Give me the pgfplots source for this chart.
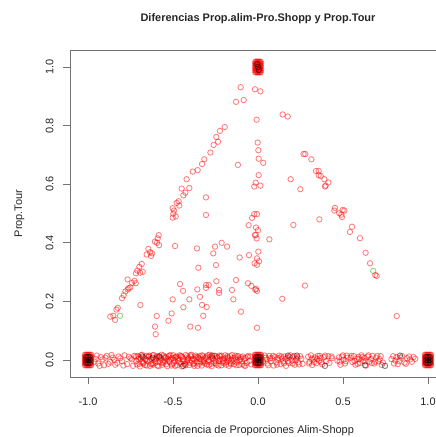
\documentclass[border=0pt]{standalone}
\usepackage{fontspec}
\setmainfont{Liberation Sans}
\usepackage{pgfplots}
\pgfplotsset{compat=1.18}

\definecolor{boxgray}{gray}{0.45}
\definecolor{txt}{gray}{0.15}

\begin{document}
\begin{tikzpicture}
\begin{axis}[
    at={(0,0)}, anchor=south west,
    scale only axis,
    width=375bp, height=327bp,
    xmin=-1.103, xmax=1.103,
    ymin=-0.058, ymax=1.058,
    xtick={-1,-0.5,0,0.5,1},
    ytick={0,0.2,0.4,0.6,0.8,1},
    xtick pos=left, ytick pos=left,
    tick align=outside,
    major tick length=7bp,
    axis line style={boxgray, line width=0.8bp},
    every tick/.style={boxgray, line width=0.8bp},
    font=\fontsize{11}{13}\selectfont,
    /pgf/number format/.cd, fixed, fixed zerofill, precision=1, assume math mode=true,
    /pgfplots/.cd,
    xticklabel style={anchor=base, yshift=-21bp, text=txt},
    yticklabel style={xshift=-10bp, rotate=90, anchor=base, text=txt},
    title={\bfseries Diferencias Prop.alim-Pro.Shopp y Prop.Tour},
    title style={at={(axis description cs:0.5,1.0703)}, anchor=base, text=txt},
    xlabel={Diferencia de Proporciones Alim-Shopp},
    xlabel style={at={(axis description cs:0.5,-0.174)}, anchor=base, text=txt},
    ylabel={Prop.Tour},
    ylabel style={at={(axis description cs:-0.129,0.5)}, anchor=base, text=txt},
    every axis plot/.append style={only marks, mark=o, mark size=2.7bp,
        mark options={line width=0.85bp}},
]
% dense groups at (-1,0), (0,0), (1,0), (0,1)
\addplot[draw=red, draw opacity=0.5] coordinates {
(-1.018,-0.018)(-1.012,-0.018)(-1.006,-0.018)(-1.0,-0.018)(-0.994,-0.018)(-0.988,-0.018)(-0.982,-0.018)
(-1.018,-0.012)(-1.012,-0.012)(-1.006,-0.012)(-1.0,-0.012)(-0.994,-0.012)(-0.988,-0.012)(-0.982,-0.012)
(-1.018,-0.006)(-1.012,-0.006)(-1.006,-0.006)(-1.0,-0.006)(-0.994,-0.006)(-0.988,-0.006)(-0.982,-0.006)
(-1.018,0.0)(-1.012,0.0)(-1.006,0.0)(-1.0,0.0)(-0.994,0.0)(-0.988,0.0)(-0.982,0.0)
(-1.018,0.006)(-1.012,0.006)(-1.006,0.006)(-1.0,0.006)(-0.994,0.006)(-0.988,0.006)(-0.982,0.006)
(-1.018,0.012)(-1.012,0.012)(-1.006,0.012)(-1.0,0.012)(-0.994,0.012)(-0.988,0.012)(-0.982,0.012)
(-1.018,0.018)(-1.012,0.018)(-1.006,0.018)(-1.0,0.018)(-0.994,0.018)(-0.988,0.018)(-0.982,0.018)
(-0.018,-0.018)(-0.012,-0.018)(-0.006,-0.018)(0.0,-0.018)(0.006,-0.018)(0.012,-0.018)(0.018,-0.018)
(-0.018,-0.012)(-0.012,-0.012)(-0.006,-0.012)(0.0,-0.012)(0.006,-0.012)(0.012,-0.012)(0.018,-0.012)
(-0.018,-0.006)(-0.012,-0.006)(-0.006,-0.006)(0.0,-0.006)(0.006,-0.006)(0.012,-0.006)(0.018,-0.006)
(-0.018,0.0)(-0.012,0.0)(-0.006,0.0)(0.0,0.0)(0.006,0.0)(0.012,0.0)(0.018,0.0)
(-0.018,0.006)(-0.012,0.006)(-0.006,0.006)(0.0,0.006)(0.006,0.006)(0.012,0.006)(0.018,0.006)
(-0.018,0.012)(-0.012,0.012)(-0.006,0.012)(0.0,0.012)(0.006,0.012)(0.012,0.012)(0.018,0.012)
(-0.018,0.018)(-0.012,0.018)(-0.006,0.018)(0.0,0.018)(0.006,0.018)(0.012,0.018)(0.018,0.018)
(0.982,-0.018)(0.988,-0.018)(0.994,-0.018)(1.0,-0.018)(1.006,-0.018)(1.012,-0.018)(1.018,-0.018)
(0.982,-0.012)(0.988,-0.012)(0.994,-0.012)(1.0,-0.012)(1.006,-0.012)(1.012,-0.012)(1.018,-0.012)
(0.982,-0.006)(0.988,-0.006)(0.994,-0.006)(1.0,-0.006)(1.006,-0.006)(1.012,-0.006)(1.018,-0.006)
(0.982,0.0)(0.988,0.0)(0.994,0.0)(1.0,0.0)(1.006,0.0)(1.012,0.0)(1.018,0.0)
(0.982,0.006)(0.988,0.006)(0.994,0.006)(1.0,0.006)(1.006,0.006)(1.012,0.006)(1.018,0.006)
(0.982,0.012)(0.988,0.012)(0.994,0.012)(1.0,0.012)(1.006,0.012)(1.012,0.012)(1.018,0.012)
(0.982,0.018)(0.988,0.018)(0.994,0.018)(1.0,0.018)(1.006,0.018)(1.012,0.018)(1.018,0.018)
(-0.016,0.982)(-0.011,0.982)(-0.005,0.982)(0.0,0.982)(0.005,0.982)(0.011,0.982)(0.016,0.982)
(-0.016,0.988)(-0.011,0.988)(-0.005,0.988)(0.0,0.988)(0.005,0.988)(0.011,0.988)(0.016,0.988)
(-0.016,0.994)(-0.011,0.994)(-0.005,0.994)(0.0,0.994)(0.005,0.994)(0.011,0.994)(0.016,0.994)
(-0.016,1.0)(-0.011,1.0)(-0.005,1.0)(0.0,1.0)(0.005,1.0)(0.011,1.0)(0.016,1.0)
(-0.016,1.006)(-0.011,1.006)(-0.005,1.006)(0.0,1.006)(0.005,1.006)(0.011,1.006)(0.016,1.006)
(-0.016,1.012)(-0.011,1.012)(-0.005,1.012)(0.0,1.012)(0.005,1.012)(0.011,1.012)(0.016,1.012)
(-0.016,1.018)(-0.011,1.018)(-0.005,1.018)(0.0,1.018)(0.005,1.018)(0.011,1.018)(0.016,1.018)
};
% bottom row, Prop.Tour = 0
\addplot[draw=red, draw opacity=0.5] coordinates {
(-0.955,0.004)(-0.94,-0.012)(-0.925,0.01)(-0.905,-0.018)(-0.89,0.014)(-0.87,-0.006)
(-0.855,0.008)(-0.84,-0.016)(-0.82,0.012)(-0.80,-0.004)(-0.785,0.016)(-0.77,-0.014)
(-0.75,0.006)(-0.735,-0.02)
(-0.962,-0.006)(-0.948,0.015)(-0.932,-0.02)(-0.915,0.002)(-0.898,0.008)(-0.88,-0.013)
(-0.862,0.017)(-0.846,0.001)(-0.828,-0.01)(-0.81,0.006)(-0.792,-0.019)(-0.76,0.011)
(-0.742,0.002)(-0.728,0.014)
(-0.718,0.012)(-0.712,-0.015)(-0.703,0.003)(-0.695,-0.022)(-0.688,0.016)(-0.681,-0.006)
(-0.672,0.009)(-0.665,-0.017)(-0.658,0.014)(-0.651,-0.002)(-0.643,0.011)(-0.636,-0.02)
(-0.628,0.005)(-0.621,-0.011)(-0.614,0.017)(-0.607,-0.004)(-0.599,0.008)(-0.592,-0.019)
(-0.585,0.013)(-0.578,-0.008)(-0.57,0.002)(-0.563,-0.016)(-0.556,0.015)(-0.549,-0.003)
(-0.541,0.009)(-0.534,-0.021)(-0.527,0.012)(-0.52,-0.007)(-0.512,0.004)(-0.505,-0.014)
(-0.498,0.016)(-0.491,-0.001)(-0.483,0.01)(-0.476,-0.018)(-0.469,0.006)(-0.462,-0.009)
(-0.454,0.014)(-0.447,-0.022)(-0.44,0.002)(-0.433,-0.012)(-0.425,0.017)(-0.418,-0.005)
(-0.411,0.008)(-0.404,-0.017)(-0.396,0.012)(-0.389,-0.002)(-0.382,0.005)(-0.375,-0.02)
(-0.367,0.015)(-0.36,-0.008)(-0.353,0.01)(-0.346,-0.013)(-0.338,0.003)(-0.331,-0.019)
(-0.324,0.013)(-0.317,-0.004)(-0.309,0.008)(-0.302,-0.015)(-0.295,0.016)(-0.288,-0.001)
(-0.28,0.011)(-0.273,-0.021)(-0.266,0.004)(-0.259,-0.009)(-0.251,0.014)(-0.244,-0.016)
(-0.237,0.007)(-0.23,-0.003)(-0.222,0.012)(-0.215,-0.018)(-0.208,0.002)(-0.2,-0.011)
(-0.193,0.016)(-0.186,-0.006)(-0.178,0.009)(-0.171,-0.02)(-0.164,0.013)(-0.156,-0.002)
(-0.149,0.006)(-0.141,-0.014)(-0.134,0.015)(-0.126,-0.008)(-0.119,0.01)(-0.111,-0.017)
(-0.104,0.004)(-0.096,-0.005)(-0.089,0.012)(-0.081,-0.019)(-0.074,0.007)(-0.066,-0.01)
(-0.058,0.014)(-0.05,-0.003)
(-0.698,0.009)(-0.676,-0.012)(-0.66,0.002)(-0.64,0.015)(-0.618,-0.016)(-0.6,0.004)
(-0.582,0.01)(-0.56,-0.01)(-0.545,0.006)(-0.522,0.015)(-0.508,-0.019)(-0.488,0.008)
(-0.47,-0.004)(-0.45,0.012)(-0.43,-0.015)(-0.415,0.001)(-0.398,0.016)(-0.378,-0.011)
(-0.36,0.006)(-0.342,0.014)(-0.322,-0.008)(-0.305,0.004)(-0.29,-0.018)(-0.27,0.009)
(-0.25,-0.012)(-0.228,0.015)(-0.205,-0.004)(-0.18,0.006)(-0.16,-0.014)(-0.13,0.002)
(-0.716,-0.004)(-0.707,0.014)(-0.698,-0.013)(-0.69,0.005)(-0.682,0.018)(-0.673,-0.009)
(-0.664,0.003)(-0.655,-0.019)(-0.646,0.012)(-0.637,0.0)(-0.629,-0.014)(-0.62,0.016)
(-0.611,0.002)(-0.602,-0.009)(-0.594,0.013)(-0.585,-0.021)(-0.576,0.007)(-0.567,0.018)
(-0.558,-0.006)(-0.55,0.01)(-0.541,-0.015)(-0.532,0.003)(-0.523,-0.002)(-0.514,0.017)
(-0.505,0.007)(-0.497,-0.01)(-0.488,-0.02)(-0.479,0.012)(-0.47,0.002)(-0.461,0.016)
(-0.453,-0.013)(-0.444,0.009)(-0.435,-0.003)(-0.426,-0.018)(-0.417,0.013)(-0.409,0.004)
(-0.4,-0.009)(-0.391,0.018)(-0.382,-0.014)(-0.373,0.001)(-0.365,0.01)(-0.356,-0.02)
(-0.347,0.006)(-0.338,-0.006)(-0.329,0.016)(-0.32,0.001)(-0.312,-0.012)(-0.303,0.012)
(-0.294,-0.005)(-0.285,0.018)(-0.276,-0.013)(-0.268,0.007)(-0.259,0.015)(-0.25,-0.003)
(-0.241,0.01)(-0.232,-0.019)(-0.224,0.003)(-0.215,0.015)(-0.206,-0.008)(-0.197,0.006)
(-0.188,-0.016)(-0.18,0.013)(-0.171,0.001)(-0.162,-0.01)(-0.153,0.017)(-0.144,-0.004)
(-0.136,0.008)(-0.127,-0.018)(-0.118,0.014)(-0.109,-0.001)(-0.1,0.009)(-0.092,-0.014)
(-0.083,0.004)(-0.074,-0.02)(-0.062,0.01)(-0.045,0.012)(-0.04,-0.015)
(0.045,0.008)(0.055,-0.012)(0.066,0.014)(0.074,-0.004)(0.083,0.006)(0.092,-0.019)
(0.1,0.011)(0.108,-0.008)(0.116,0.002)(0.124,0.015)(0.132,-0.014)(0.14,0.005)
(0.148,-0.005)(0.156,0.012)(0.165,-0.02)(0.173,0.008)(0.181,-0.01)(0.19,0.016)
(0.198,-0.002)(0.207,0.01)(0.216,-0.016)(0.226,0.004)(0.236,-0.008)(0.248,0.013)
(0.262,-0.013)
(0.295,0.011)(0.303,-0.006)(0.311,0.016)(0.319,-0.017)(0.327,0.002)(0.335,0.009)
(0.343,-0.011)(0.352,0.014)(0.36,-0.003)(0.368,0.007)(0.378,-0.015)(0.39,0.01)
(0.402,-0.004)(0.414,0.013)
(0.435,0.006)(0.467,-0.002)(0.476,0.009)(0.485,-0.016)
(0.494,0.012)(0.503,0.001)(0.512,-0.012)(0.522,0.015)
(0.545,0.008)(0.555,-0.007)(0.564,0.013)(0.573,-0.016)(0.582,0.004)(0.591,0.011)
(0.6,-0.01)(0.609,0.016)(0.618,-0.003)(0.627,0.007)(0.636,-0.019)(0.645,0.012)
(0.654,-0.006)(0.664,0.004)(0.674,0.014)(0.684,-0.012)(0.695,0.008)(0.708,-0.004)
(0.722,0.013)(0.735,-0.009)
(0.785,0.003)(0.8,-0.012)(0.815,0.01)(0.83,-0.004)(0.848,0.013)(0.862,-0.009)
(0.878,0.006)(0.895,0.002)(0.925,0.004)
(0.03,-0.006)(0.04,0.015)(0.05,0.002)(0.06,-0.018)(0.07,0.006)(0.088,0.014)
(0.112,-0.016)(0.12,0.007)(0.137,0.012)(0.152,-0.011)(0.162,0.004)(0.178,-0.004)
(0.186,0.011)(0.203,-0.012)(0.212,0.014)(0.22,-0.002)(0.232,0.009)(0.242,-0.015)
(0.255,0.004)(0.3,-0.012)(0.316,0.005)(0.33,-0.007)(0.348,0.004)(0.364,0.014)
(0.373,-0.008)(0.395,0.015)(0.42,-0.01)(0.432,0.012)(0.48,-0.006)(0.5,0.016)
(0.517,-0.004)(0.528,0.008)(0.55,0.014)(0.568,-0.004)(0.587,-0.013)(0.596,0.003)
(0.614,0.01)(0.632,-0.005)(0.65,0.016)(0.67,-0.01)(0.69,-0.006)(0.702,0.014)
(0.716,0.003)(0.728,-0.017)(0.795,0.013)(0.808,-0.002)(0.822,-0.014)(0.84,0.008)
(0.87,-0.013)(0.888,0.012)(0.905,-0.006)(0.915,0.01)
};
% points above zero
\addplot[draw=red, draw opacity=0.5] coordinates {
(-0.102,0.931)(-0.018,0.924)(0.014,0.917)(-0.129,0.881)(-0.084,0.887)(0.145,0.838)
(0.175,0.831)(-0.008,0.820)
(-0.196,0.795)(-0.224,0.782)(-0.245,0.761)(-0.235,0.745)(-0.261,0.734)(-0.280,0.708)
(-0.316,0.685)(-0.329,0.669)(-0.355,0.648)(-0.384,0.643)(-0.420,0.617)(-0.449,0.585)
(-0.404,0.587)(-0.427,0.571)(-0.439,0.562)(-0.467,0.542)(-0.463,0.527)(-0.478,0.536)
(-0.502,0.518)(-0.494,0.510)(-0.498,0.499)(-0.502,0.486)(-0.484,0.490)
(-0.306,0.555)(-0.306,0.495)(-0.118,0.666)
(-0.002,0.742)(0.002,0.716)(0.004,0.687)(0.031,0.673)(0.004,0.631)(-0.014,0.605)
(-0.022,0.592)(0.014,0.595)
(0.192,0.617)(0.249,0.583)(0.268,0.703)(0.278,0.703)(0.314,0.685)(0.341,0.645)
(0.357,0.645)(0.357,0.631)(0.369,0.628)(0.390,0.617)(0.414,0.606)(0.394,0.592)
(0.398,0.595)
(0.453,0.519)(0.449,0.510)(0.498,0.512)(0.508,0.510)(0.478,0.501)(0.494,0.488)
(0.490,0.496)
(0.361,0.480)(0.553,0.455)(0.541,0.437)(0.600,0.416)
(-0.022,0.498)(-0.006,0.498)(-0.035,0.485)(-0.055,0.460)(-0.012,0.452)(0.0,0.443)
(-0.014,0.427)(-0.008,0.415)(-0.018,0.426)
(0.208,0.461)(0.067,0.412)
(-0.584,0.426)(-0.590,0.415)(-0.582,0.392)(-0.606,0.404)(-0.594,0.400)
(0.633,0.366)(0.659,0.330)(0.690,0.290)(0.698,0.287)(0.276,0.254)(0.143,0.209)
(0.816,0.150)
(0.002,0.370)(-0.006,0.347)(-0.020,0.330)(0.006,0.337)(-0.006,0.325)(-0.012,0.243)
(-0.006,0.236)(-0.016,0.240)(-0.006,0.110)
(-0.053,0.358)(-0.108,0.350)(-0.059,0.262)(-0.039,0.253)(-0.129,0.273)(-0.153,0.239)
(-0.145,0.207)(-0.100,0.165)
(-0.214,0.400)(-0.253,0.387)(-0.182,0.387)(-0.263,0.364)(-0.247,0.324)(-0.229,0.239)
(-0.229,0.229)(-0.245,0.269)
(-0.290,0.256)(-0.306,0.246)(-0.306,0.256)(-0.359,0.381)(-0.351,0.315)(-0.357,0.241)
(-0.341,0.216)(-0.329,0.188)(-0.302,0.181)(-0.322,0.151)
(-0.404,0.207)(-0.439,0.180)(-0.459,0.259)(-0.441,0.236)(-0.502,0.207)(-0.508,0.159)
(-0.527,0.134)(-0.398,0.114)(-0.353,0.110)(-0.488,0.389)
(-0.596,0.150)(-0.606,0.114)(-0.602,0.088)(-0.692,0.188)
(-0.645,0.379)(-0.635,0.368)(-0.655,0.360)(-0.623,0.364)(-0.629,0.355)
(-0.684,0.328)(-0.698,0.318)(-0.710,0.305)(-0.694,0.298)(-0.678,0.301)(-0.718,0.296)
(-0.727,0.270)(-0.719,0.262)(-0.741,0.263)(-0.751,0.248)(-0.767,0.241)(-0.761,0.245)
(-0.780,0.234)(-0.790,0.221)(-0.800,0.211)(-0.767,0.275)
(-0.825,0.178)(-0.833,0.172)(-0.851,0.151)(-0.841,0.137)(-0.869,0.148)
};
% second group (black)
\addplot[draw=black, draw opacity=0.5] coordinates {
(-1.01,-0.01)(-1.0,-0.01)(-0.99,-0.01)(-1.01,0.0)(-1.0,0.0)(-0.99,0.0)(-1.01,0.01)(-1.0,0.01)(-0.99,0.01)
(-0.01,-0.01)(0.0,-0.01)(0.01,-0.01)(-0.01,0.0)(0.0,0.0)(0.01,0.0)(-0.01,0.01)(0.0,0.01)(0.01,0.01)
(0.99,-0.01)(1.0,-0.01)(1.01,-0.01)(0.99,0.0)(1.0,0.0)(1.01,0.0)(0.99,0.01)(1.0,0.01)(1.01,0.01)
(0.0,1.0)(0.005,0.99)(-0.005,1.01)
(-0.68,0.012)(-0.62,0.008)(-0.58,0.012)(-0.44,-0.02)(-0.27,0.015)
(0.176,0.015)(0.229,0.015)(0.394,-0.02)(0.63,-0.018)(0.747,-0.02)(0.835,0.015)
};
% third group (green)
\addplot[draw=green!70!black, draw opacity=0.5] coordinates {
(-0.812,0.151)(0.678,0.304)
};
\end{axis}
\pgfresetboundingbox
\path[use as bounding box] (-70.5bp,-60bp) rectangle (365.5bp,377bp);
\end{tikzpicture}
\end{document}
